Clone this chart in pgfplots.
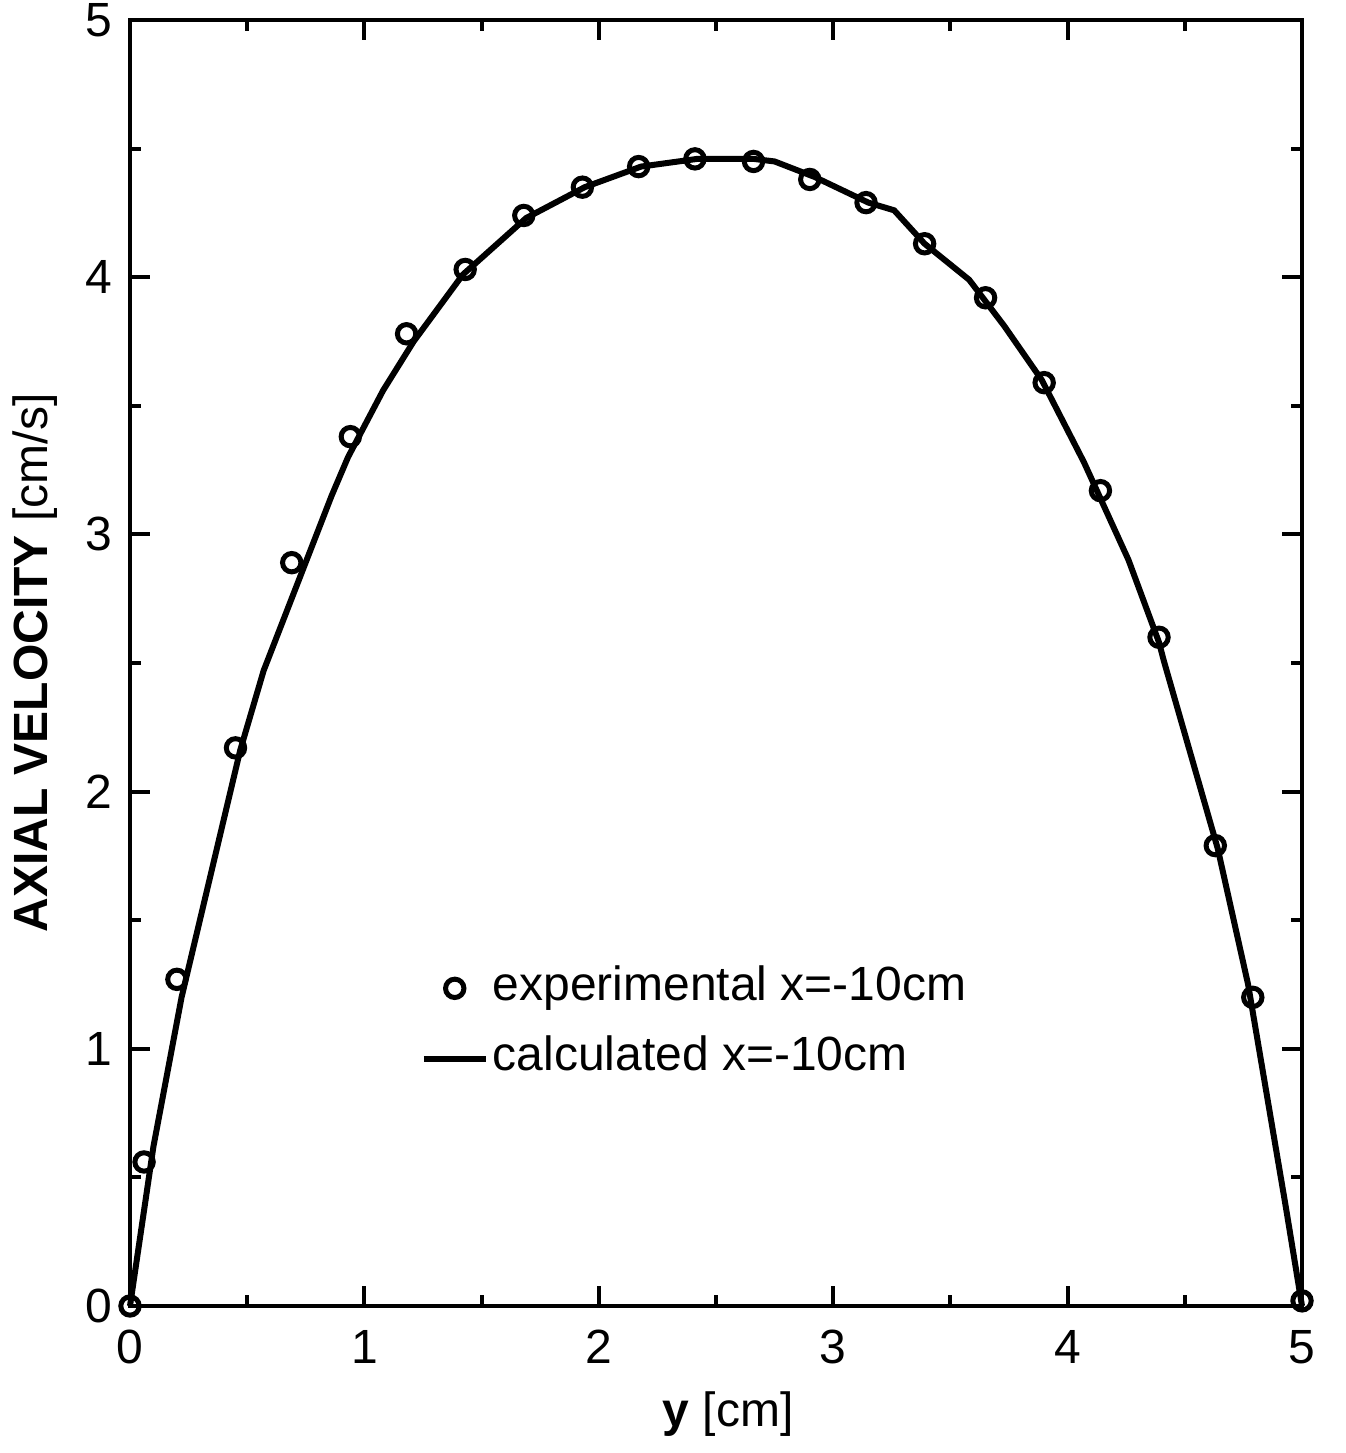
\documentclass[border=0pt]{standalone}
\usepackage{fontspec}
\setmainfont{Liberation Sans}
\usepackage{pgfplots}
\pgfplotsset{compat=1.18}
\newcommand{\lblfont}{\fontsize{12}{14.4}\selectfont}
\begin{document}
\begin{tikzpicture}
\begin{axis}[
  name=ax,
  scale only axis,
  width=293pt, height=321.5pt,
  xmin=0, xmax=5, ymin=0, ymax=5,
  xtick={0,1,2,3,4,5}, ytick={0,1,2,3,4,5},
  minor x tick num=1, minor y tick num=1,
  tick align=inside,
  major tick length=5pt, minor tick length=2.75pt,
  axis line style={line width=1pt},
  every tick/.style={black, line width=1pt},
  /pgf/number format/assume math mode=true,
  tick label style={font=\lblfont},
  xticklabel style={yshift=-2.5pt},
  yticklabel style={xshift=-1pt},
  xlabel={{\bfseries y} [cm]},
  ylabel={{\bfseries AXIAL VELOCITY} [cm/s]},
  label style={font=\lblfont},
  xlabel style={at={(axis description cs:0.5,0)}, anchor=north, yshift=-18pt, xshift=3pt},
  ylabel style={at={(axis description cs:-0.081,0.5)}, anchor=center},
  clip=false,
  legend style={at={(axis cs:1.237,1.34)}, anchor=north west, draw=none, fill=none,
    inner sep=0pt, font=\lblfont, row sep=4.5pt,
    nodes={inner sep=1pt, text height=8.6pt, text depth=2.5pt}},
  legend cell align=left,
  legend image code/.code={\draw[mark repeat=2,mark phase=2,#1] plot coordinates {(0pt,0pt) (7.75pt,0pt) (15.5pt,0pt)};},
]
\addplot[only marks, mark=o, mark size=2.3pt, mark options={line width=1.25pt, black}]
coordinates {
(0,0) (0.06,0.56) (0.20,1.27) (0.45,2.17) (0.69,2.89) (0.94,3.38)
(1.18,3.78) (1.43,4.03) (1.68,4.24) (1.93,4.35) (2.17,4.43) (2.41,4.46)
(2.66,4.45) (2.90,4.38) (3.14,4.29) (3.39,4.13) (3.65,3.92) (3.90,3.59)
(4.14,3.17) (4.39,2.60) (4.63,1.79) (4.79,1.20) (5.00,0.02)
};
\addlegendentry{experimental x=-10cm}
\addplot[black, line width=1.5pt, mark=none]
coordinates {
(0,0) (0.10,0.62) (0.22,1.20) (0.47,2.16) (0.57,2.47) (0.86,3.15) (0.93,3.30)
(1.08,3.56) (1.21,3.75) (1.42,4.01) (1.69,4.23) (1.94,4.35) (2.18,4.43)
(2.42,4.46) (2.66,4.46) (2.75,4.45) (2.92,4.39) (3.15,4.29) (3.26,4.26)
(3.39,4.13) (3.58,3.99) (3.73,3.81) (3.89,3.60) (4.07,3.28) (4.26,2.90)
(4.39,2.58) (4.41,2.51) (4.64,1.78) (4.77,1.25) (4.93,0.39) (5.00,0.00)
};
\addlegendentry{calculated x=-10cm}
\end{axis}
\pgfresetboundingbox
\path[use as bounding box] ([xshift=-32.5pt,yshift=-36.75pt]ax.south west) rectangle ([xshift=11pt,yshift=5pt]ax.north east);
\end{tikzpicture}
\end{document}
